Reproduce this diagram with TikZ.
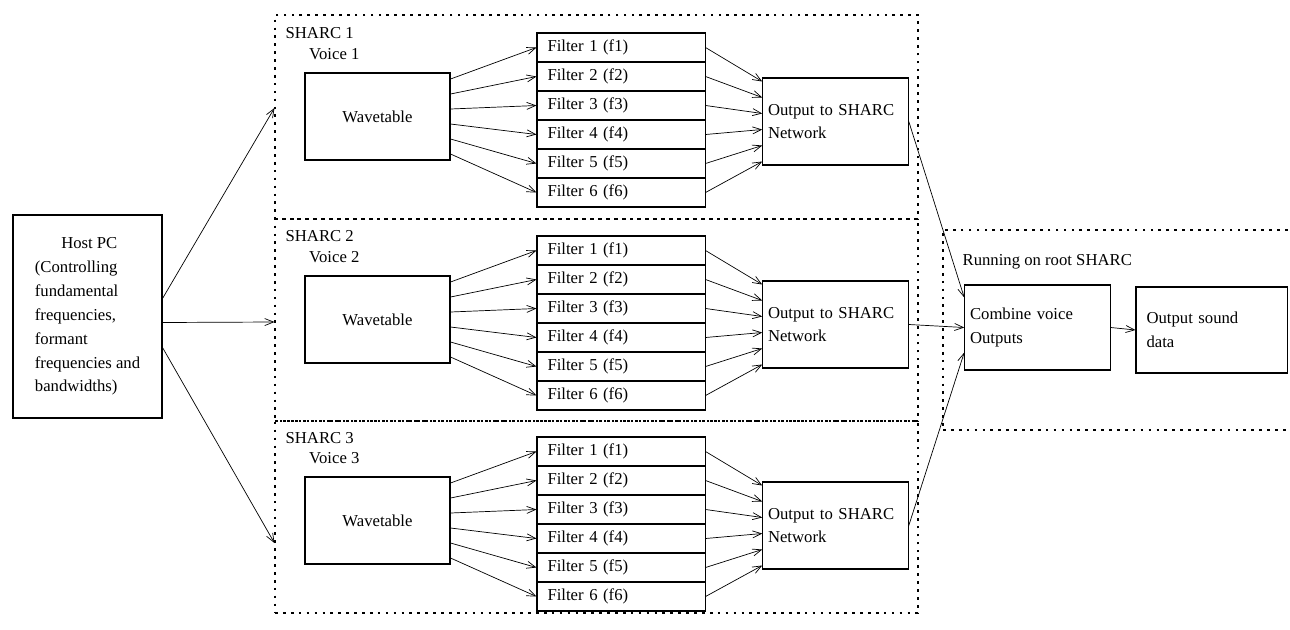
\documentclass[tikz,border=0pt]{standalone}
\usepackage{fontspec}
\setmainfont{Liberation Serif}
\usetikzlibrary{arrows.meta}
\newcommand\Voice[2]{
  \node[anchor=north west] (voice#2) at (303,#1+42) {Voice #2};
  \node[box,minimum width=2.9cm,minimum height=1.74cm] (wave#2) at (377.5,#1+116.5) {Wavetable};
  \foreach \i in {1,...,6}
    \node[filt] (filt#2-\i) at (621,#1+47.5+\i*29-29) {Filter \i\ (f\i)};
  \node[box,outbox] (out#2) at (835.5,#1+121.5) {Output to SHARC\\Network};
  \foreach \i in {1,...,6} {
    \draw[->] ([yshift={(3.5-\i)*0.3cm}]wave#2.east) -- (filt#2-\i.west);
    \draw[->] (filt#2-\i.east) -- ([yshift={(3.5-\i)*0.32cm}]out#2.west);
  }
}
\tikzstyle{box}=[rectangle,draw,line width=0.6pt]
\tikzstyle{filt}=[box,minimum width=3.36cm,minimum height=0.58cm,inner xsep=6pt,text width=2.94cm,align=left]
\tikzstyle{outbox}=[minimum width=2.9cm,minimum height=1.74cm,text width=2.7cm,inner xsep=3pt,align=left]
\tikzstyle{region}=[rectangle,draw,line width=0.7pt,dash pattern=on 1.5pt off 3pt]

\begin{document}
\begin{tikzpicture}[x=0.02cm,y=-0.02cm,font=\fontsize{9.5}{13.6}\selectfont,>={Straight Barb[length=5pt,width=4pt]}]
  \useasboundingbox (0,0) rectangle (1290,629);
  % host
  \node[box,minimum width=2.98cm,minimum height=4.06cm,align=left] (host) at (87.5,316.5)
    {\hspace*{15pt}Host PC\\(Controlling\\fundamental\\frequencies,\\formant\\frequencies and\\bandwidths)};
  % the three SHARC boards
  \node[region,minimum width=12.86cm,minimum height=4.08cm] (sharc1) at (596.5,117) {};
  \node[region,minimum width=12.86cm,minimum height=4.04cm] (sharc2) at (596.5,320) {};
  \node[region,minimum width=12.86cm,minimum height=3.84cm] (sharc3) at (596.5,517) {};
  \node[anchor=north west] (lab1) at ([xshift=0.1cm,yshift=-0.14cm]sharc1.north west) {SHARC 1};
  \node[anchor=north west] (lab2) at ([xshift=0.1cm,yshift=-0.12cm]sharc2.north west) {SHARC 2};
  \node[anchor=north west] (lab3) at ([xshift=0.1cm,yshift=-0.12cm]sharc3.north west) {SHARC 3};
  \Voice{0}{1}
  \Voice{203}{2}
  \Voice{404}{3}
  % root SHARC
  \node[region,minimum width=7.14cm,minimum height=4cm] (root) at (1121.5,330) {};
  \node[anchor=north west] (rootlab) at ([xshift=0.28cm,yshift=-0.38cm]root.north west) {Running on root SHARC};
  \node[box,outbox,minimum height=1.7cm] (comb) at (1037.5,327.5) {Combine voice\\Outputs};
  \node[box,outbox,minimum width=2.94cm,minimum height=1.72cm,text width=2.6cm,inner xsep=6pt] (sound) at (1211.5,330) {Output sound\\data};
  \draw[->] ([yshift=0.36cm]host.east) -- ([yshift=0.18cm]sharc1.west);
  \draw[->] ([yshift=-0.12cm]host.east) -- ([yshift=-0.04cm]sharc2.west);
  \draw[->] ([yshift=-0.62cm]host.east) -- ([yshift=-0.52cm]sharc3.west);
  \draw[->] (out1.east) -- ([yshift=0.6cm]comb.west);
  \draw[->] (out2.east) -- (comb.west);
  \draw[->] (out3.east) -- ([yshift=-0.5cm]comb.west);
  \draw[->] (comb.east) -- (sound.west);
\end{tikzpicture}
\end{document}
